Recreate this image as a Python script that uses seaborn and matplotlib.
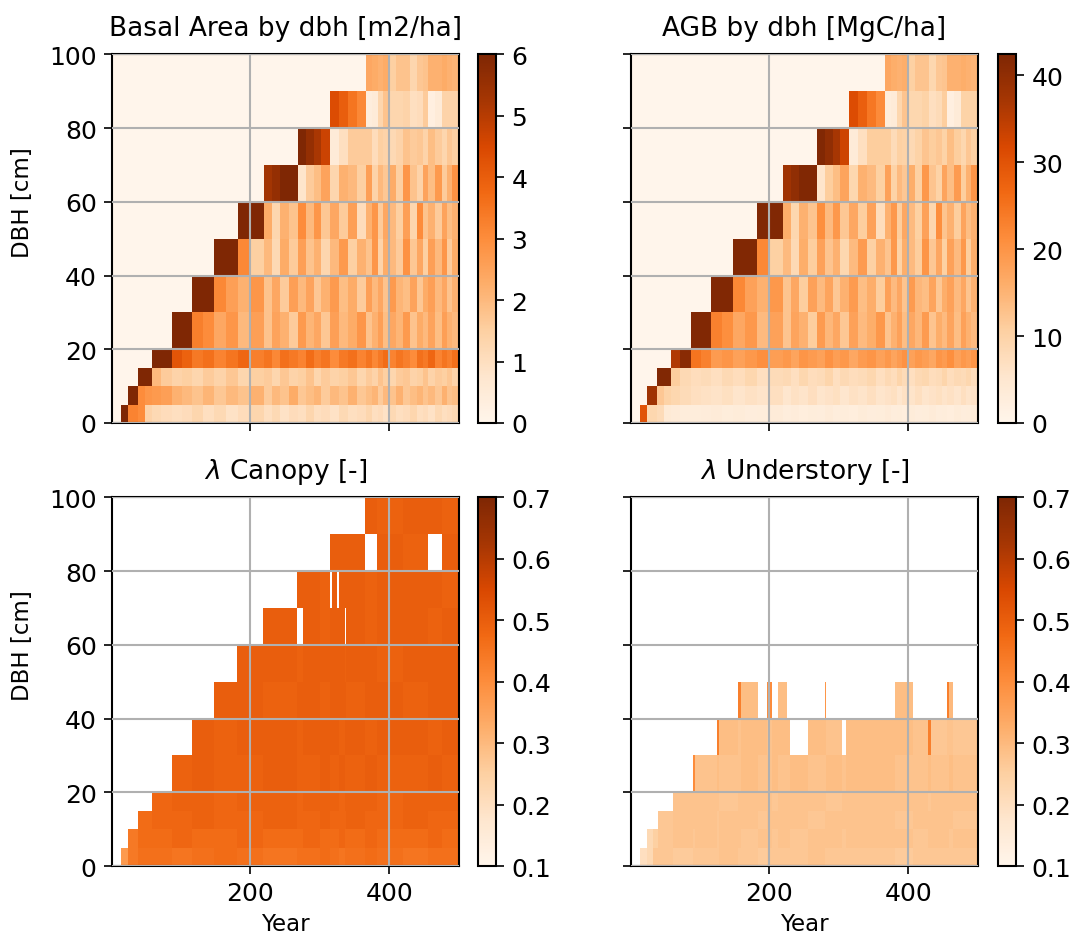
import numpy as np
import seaborn as sns
import matplotlib
matplotlib.use("Agg")
import matplotlib.pyplot as plt

# DBH class edges [cm]
dbh_edges = [0, 5, 10, 15, 20, 30, 40, 50, 60, 70, 80, 90, 100]

# year edges used for the two top panels
years_top = [1, 14, 24, 38, 48, 58, 72, 87, 101, 116, 132, 148, 165, 182, 200, 219,
             231, 243, 255, 268, 280, 291, 302, 314, 327, 340, 353, 366, 375, 383,
             391, 400, 410, 420, 430, 440, 448, 455, 465, 476, 483, 490, 500]

# basal area [m2/ha], one row per dbh class (0-5 cm first)
ba = [
    [0, 6.0, 3.2, 3.0, 1.4, 1.2, 1.1, 1.0, 1.1, 1.3, 1.0, 1.2, 0.9, 1.1, 1.3, 1.0, 1.2, 0.9, 1.1, 1.0, 1.3,
     1.0, 1.1, 0.9, 1.2, 1.0, 1.1, 1.3, 1.0, 1.1, 0.9, 1.2, 1.0, 1.1, 1.3, 1.0, 1.1, 0.9, 1.2, 1.0, 1.1, 1.2],
    [0, 0, 6.0, 3.0, 2.8, 2.7, 2.6, 2.2, 2.0, 1.8, 2.1, 1.7, 2.0, 1.8, 2.2, 1.6, 2.0, 1.8, 2.3, 1.7, 1.9,
     2.1, 1.6, 2.0, 1.8, 2.2, 1.7, 1.9, 2.1, 1.6, 2.0, 1.8, 2.2, 1.7, 1.9, 2.1, 1.8, 2.0, 1.7, 2.2, 1.8, 1.9],
    [0, 0, 0, 6.0, 6.0, 2.0, 1.6, 1.4, 1.5, 1.3, 1.6, 1.4, 1.7, 1.3, 1.5, 1.6, 1.3, 1.7, 1.4, 1.5, 1.8,
     1.3, 1.6, 1.4, 1.5, 1.7, 1.3, 1.6, 1.4, 1.8, 1.5, 1.3, 1.6, 1.7, 1.4, 1.5, 1.8, 1.4, 1.6, 1.5, 1.7, 1.4],
    [0, 0, 0, 0, 0, 6.0, 6.0, 4.2, 3.9, 3.4, 3.6, 3.2, 3.5, 3.8, 3.3, 3.5, 3.1, 3.6, 3.4, 3.2, 3.7,
     3.3, 3.5, 3.0, 3.4, 3.6, 3.2, 3.5, 3.1, 3.4, 3.7, 3.2, 3.5, 3.3, 3.0, 3.6, 3.4, 3.8, 3.2, 3.5, 3.3, 3.6],
    [0, 0, 0, 0, 0, 0, 0, 6.0, 6.0, 3.3, 3.0, 2.4, 2.8, 2.0, 2.6, 1.8, 2.5, 2.2, 1.6, 2.7, 2.1,
     2.4, 1.7, 2.6, 2.0, 2.3, 2.8, 1.8, 2.2, 2.6, 1.9, 2.4, 2.1, 2.7, 1.8, 2.3, 2.0, 2.5, 1.9, 2.6, 2.2, 2.0],
    [0, 0, 0, 0, 0, 0, 0, 0, 0, 6.0, 6.0, 3.1, 2.6, 2.2, 2.8, 1.8, 2.4, 1.6, 2.6, 2.0, 2.5,
     1.7, 2.2, 2.7, 1.9, 2.3, 1.6, 2.6, 2.0, 2.4, 1.8, 2.7, 2.1, 1.9, 2.5, 1.7, 2.3, 2.6, 2.0, 2.4, 1.8, 2.2],
    [0, 0, 0, 0, 0, 0, 0, 0, 0, 0, 0, 6.0, 6.0, 3.1, 1.5, 2.0, 1.2, 2.3, 1.6, 2.6, 1.8,
     2.2, 1.3, 2.0, 2.7, 1.5, 2.2, 1.8, 2.8, 1.4, 2.3, 2.0, 1.6, 2.9, 1.7, 2.4, 1.5, 2.6, 2.0, 2.8, 1.6, 2.3],
    [0, 0, 0, 0, 0, 0, 0, 0, 0, 0, 0, 0, 0, 6.0, 6.0, 2.3, 1.3, 2.2, 1.8, 3.0, 2.0,
     2.8, 1.7, 2.4, 1.6, 2.6, 1.1, 2.2, 2.8, 1.6, 2.4, 2.0, 1.5, 2.6, 1.3, 3.0, 1.8, 2.2, 1.6, 2.5, 1.9, 2.2],
    [0, 0, 0, 0, 0, 0, 0, 0, 0, 0, 0, 0, 0, 0, 0, 5.3, 5.6, 6.0, 6.0, 0.8, 1.6,
     1.9, 2.5, 1.3, 2.2, 2.0, 1.5, 2.6, 1.4, 2.0, 1.7, 2.3, 1.5, 2.8, 1.8, 1.4, 2.5, 1.9, 2.7, 1.6, 2.2, 2.9],
    [0, 0, 0, 0, 0, 0, 0, 0, 0, 0, 0, 0, 0, 0, 0, 0, 0, 0, 0, 6.0, 5.6,
     5.2, 4.7, 0.5, 1.0, 1.6, 1.6, 1.6, 1.1, 1.5, 1.4, 1.2, 1.4, 1.8, 1.6, 1.7, 1.4, 1.9, 1.6, 1.3, 1.7, 1.5],
    [0, 0, 0, 0, 0, 0, 0, 0, 0, 0, 0, 0, 0, 0, 0, 0, 0, 0, 0, 0, 0,
     0, 0, 4.4, 4.0, 3.5, 3.1, 0.4, 0.5, 1.3, 1.8, 1.3, 1.3, 1.4, 1.0, 1.1, 1.6, 0.3, 0.5, 1.4, 1.4, 1.4],
    [0, 0, 0, 0, 0, 0, 0, 0, 0, 0, 0, 0, 0, 0, 0, 0, 0, 0, 0, 0, 0,
     0, 0, 0, 0, 0, 0, 2.4, 2.3, 2.2, 2.3, 1.5, 1.8, 1.8, 1.3, 1.7, 1.8, 2.2, 2.2, 2.3, 2.2, 2.1],
]

# above ground biomass [MgC/ha]
agb = [
    [0, 30, 9, 8, 4, 3.5, 3, 3, 3.2, 3.6, 3, 3.4, 2.7, 3.1, 3.6, 2.9, 3.3, 2.6, 3.1, 2.9, 3.5,
     2.9, 3.1, 2.6, 3.4, 2.9, 3.1, 3.5, 2.9, 3.1, 2.6, 3.4, 2.9, 3.1, 3.6, 2.9, 3.1, 2.6, 3.4, 2.9, 3.1, 3.4],
    [0, 0, 38, 12, 10, 9, 8, 7, 6.5, 6, 6.8, 5.6, 6.5, 5.9, 7, 5.3, 6.5, 5.9, 7.2, 5.6, 6.2,
     6.8, 5.3, 6.5, 5.9, 7, 5.6, 6.2, 6.8, 5.3, 6.5, 5.9, 7, 5.6, 6.2, 6.8, 5.9, 6.5, 5.6, 7, 5.9, 6.2],
    [0, 0, 0, 42, 42, 11, 8.5, 7.5, 8, 7, 8.5, 7.5, 9, 7, 8, 8.5, 7, 9, 7.5, 8, 9.5,
     7, 8.5, 7.5, 8, 9, 7, 8.5, 7.5, 9.5, 8, 7, 8.5, 9, 7.5, 8, 9.5, 7.5, 8.5, 8, 9, 7.5],
    [0, 0, 0, 0, 0, 36, 41, 25, 23, 19, 20, 18, 19.5, 21, 18.5, 19.5, 17.5, 20, 19, 18, 20.5,
     18.5, 19.5, 17, 19, 20, 18, 19.5, 17.5, 19, 20.5, 18, 19.5, 18.5, 17, 20, 19, 21, 18, 19.5, 18.5, 20],
    [0, 0, 0, 0, 0, 0, 0, 42, 42, 23, 21, 17, 19.5, 14, 18, 12.5, 17.5, 15.5, 11, 19, 14.5,
     17, 12, 18, 14, 16, 19.5, 12.5, 15.5, 18, 13.5, 17, 14.5, 19, 12.5, 16, 14, 17.5, 13.5, 18, 15.5, 14],
    [0, 0, 0, 0, 0, 0, 0, 0, 0, 42, 42, 22, 18, 15.5, 19.5, 12.5, 17, 11, 18, 14, 17.5,
     12, 15.5, 19, 13.5, 16, 11, 18, 14, 17, 12.5, 19, 14.5, 13.5, 17.5, 12, 16, 18, 14, 17, 12.5, 15.5],
    [0, 0, 0, 0, 0, 0, 0, 0, 0, 0, 0, 42, 42, 22, 10.5, 14, 8.5, 16, 11, 18, 12.5,
     15.5, 9, 14, 19, 10.5, 15.5, 12.5, 19.5, 10, 16, 14, 11, 20, 12, 17, 10.5, 18, 14, 19.5, 11, 16],
    [0, 0, 0, 0, 0, 0, 0, 0, 0, 0, 0, 0, 0, 42, 42, 16, 9, 15.5, 12.5, 21, 14,
     19.5, 12, 17, 11, 18, 7.5, 15.5, 19.5, 11, 17, 14, 10.5, 18, 9, 21, 12.5, 15.5, 11, 17.5, 13.5, 15.5],
    [0, 0, 0, 0, 0, 0, 0, 0, 0, 0, 0, 0, 0, 0, 0, 38, 40, 42, 42, 5.5, 11,
     13.5, 17.5, 9, 15.5, 14, 10.5, 18, 10, 14, 12, 16, 10.5, 19.5, 12.5, 10, 17.5, 13.5, 19, 11, 15.5, 20],
    [0, 0, 0, 0, 0, 0, 0, 0, 0, 0, 0, 0, 0, 0, 0, 0, 0, 0, 0, 42, 40,
     37, 33, 3.5, 7, 11, 11, 11, 8, 10.5, 10, 8.5, 10, 12.5, 11, 12, 10, 13.5, 11, 9, 12, 10.5],
    [0, 0, 0, 0, 0, 0, 0, 0, 0, 0, 0, 0, 0, 0, 0, 0, 0, 0, 0, 0, 0,
     0, 0, 31, 28, 24.5, 21.5, 3, 3.5, 9, 12.5, 9, 9, 10, 7, 8, 11, 2, 3.5, 10, 10, 10],
    [0, 0, 0, 0, 0, 0, 0, 0, 0, 0, 0, 0, 0, 0, 0, 0, 0, 0, 0, 0, 0,
     0, 0, 0, 0, 0, 0, 17, 16, 15.5, 16, 10.5, 12.5, 12.5, 9, 12, 12.5, 15.5, 15.5, 16, 15.5, 15],
]

nan = np.nan

# lambda canopy [-]
years_canopy = [1, 14.4, 24, 38.5, 58, 87, 116, 147, 181, 218, 267.5, 276, 300, 314, 318, 325,
                328, 336, 337, 365, 382, 420, 455, 476, 500]
lam_canopy = [
    [nan, 0.37, 0.44, 0.46, 0.46, 0.45, 0.46, 0.47, 0.46, 0.45, 0.46, 0.46, 0.47, 0.46, 0.46, 0.46,
     0.45, 0.46, 0.46, 0.47, 0.46, 0.45, 0.46, 0.46],
    [nan, nan, 0.44, 0.47, 0.47, 0.48, 0.47, 0.47, 0.48, 0.47, 0.47, 0.48, 0.47, 0.47, 0.47, 0.47,
     0.48, 0.47, 0.47, 0.48, 0.47, 0.47, 0.48, 0.47],
    [nan, nan, nan, 0.47, 0.48, 0.48, 0.49, 0.48, 0.48, 0.49, 0.48, 0.48, 0.49, 0.48, 0.48, 0.48,
     0.48, 0.48, 0.49, 0.48, 0.48, 0.49, 0.48, 0.48],
    [nan, nan, nan, nan, 0.48, 0.49, 0.49, 0.48, 0.49, 0.49, 0.48, 0.49, 0.49, 0.49, 0.49, 0.49,
     0.48, 0.49, 0.49, 0.49, 0.48, 0.49, 0.49, 0.49],
    [nan, nan, nan, nan, nan, 0.49, 0.50, 0.49, 0.49, 0.50, 0.49, 0.49, 0.50, 0.49, 0.49, 0.49,
     0.50, 0.49, 0.49, 0.50, 0.49, 0.49, 0.50, 0.49],
    [nan, nan, nan, nan, nan, nan, 0.50, 0.49, 0.50, 0.50, 0.49, 0.50, 0.50, 0.50, 0.50, 0.50,
     0.49, 0.50, 0.50, 0.49, 0.50, 0.50, 0.49, 0.50],
    [nan, nan, nan, nan, nan, nan, nan, 0.50, 0.50, 0.49, 0.50, 0.50, 0.49, 0.50, 0.50, 0.50,
     0.50, 0.50, 0.49, 0.50, 0.50, 0.49, 0.50, 0.50],
    [nan, nan, nan, nan, nan, nan, nan, nan, 0.50, 0.50, 0.49, 0.50, 0.50, 0.50, 0.50, 0.50,
     0.50, 0.49, 0.50, 0.50, 0.49, 0.50, 0.50, 0.50],
    [nan, nan, nan, nan, nan, nan, nan, nan, nan, 0.50, nan, 0.50, 0.49, 0.50, 0.50, 0.50,
     0.50, nan, 0.50, 0.49, 0.50, 0.50, 0.49, 0.50],
    [nan, nan, nan, nan, nan, nan, nan, nan, nan, nan, 0.50, 0.50, 0.49, nan, 0.50, nan,
     0.50, 0.50, 0.50, 0.49, 0.50, 0.50, 0.50, 0.49],
    [nan, nan, nan, nan, nan, nan, nan, nan, nan, nan, nan, nan, nan, 0.50, 0.50, 0.50,
     0.50, 0.50, 0.50, nan, 0.50, 0.49, nan, 0.50],
    [nan, nan, nan, nan, nan, nan, nan, nan, nan, nan, nan, nan, nan, nan, nan, nan,
     nan, nan, nan, 0.50, 0.49, 0.50, 0.50, 0.49],
]

# lambda understory [-]
years_under = [1, 13.5, 24, 33, 40, 62, 90, 93, 125, 128, 155, 159, 184, 197, 204, 212, 226,
               229, 255, 280, 282, 304, 310, 381, 406, 428, 432, 455, 458, 464, 500]
lam_under = [
    [nan, 0.20, 0.22, 0.27, 0.27, 0.26, 0.27, 0.27, 0.27, 0.28, 0.27, 0.27, 0.26, 0.27, 0.27,
     0.27, 0.27, 0.27, 0.28, 0.27, 0.27, 0.27, 0.27, 0.26, 0.27, 0.27, 0.27, 0.27, 0.27, 0.27],
    [nan, nan, 0.22, 0.25, 0.27, 0.28, 0.27, 0.28, 0.27, 0.28, 0.28, 0.27, 0.28, 0.28, 0.27,
     0.28, 0.28, 0.27, 0.28, 0.28, 0.28, 0.27, 0.28, 0.28, 0.27, 0.28, 0.28, 0.28, 0.27, 0.28],
    [nan, nan, nan, nan, 0.27, 0.28, 0.28, 0.28, 0.27, 0.28, 0.28, 0.28, 0.27, 0.28, 0.28,
     0.28, 0.28, 0.28, 0.27, 0.28, 0.28, 0.28, 0.28, 0.27, 0.28, 0.28, 0.28, 0.28, 0.28, 0.27],
    [nan, nan, nan, nan, nan, 0.28, 0.28, 0.28, 0.28, 0.27, 0.28, 0.28, 0.28, 0.28, 0.27,
     0.28, 0.28, 0.28, 0.28, 0.28, 0.27, 0.28, 0.28, 0.28, 0.28, 0.27, 0.28, 0.28, 0.28, 0.28],
    [nan, nan, nan, nan, nan, nan, 0.40, 0.28, 0.29, 0.28, 0.28, 0.29, 0.28, 0.28, 0.29,
     0.28, 0.28, 0.29, 0.28, 0.28, 0.29, 0.28, 0.29, 0.28, 0.28, 0.29, 0.28, 0.28, 0.29, 0.28],
    [nan, nan, nan, nan, nan, nan, nan, nan, 0.43, 0.29, 0.28, 0.29, 0.29, 0.28, 0.29,
     0.29, 0.29, nan, 0.29, 0.29, 0.28, nan, 0.29, 0.29, 0.28, 0.43, 0.27, 0.28, 0.28, 0.27],
    [nan, nan, nan, nan, nan, nan, nan, nan, nan, nan, 0.43, 0.29, nan, 0.40, nan,
     0.29, nan, nan, nan, 0.38, nan, nan, nan, 0.29, nan, nan, nan, 0.43, 0.30, nan],
    [nan] * 30,
    [nan] * 30,
    [nan] * 30,
    [nan] * 30,
    [nan] * 30,
]

sns.set_style("ticks")
plt.rcParams["font.family"] = ["DejaVu Sans"]
plt.rcParams["text.color"] = "black"
plt.rcParams["axes.labelcolor"] = "black"
plt.rcParams["xtick.color"] = "black"
plt.rcParams["ytick.color"] = "black"
cmap = sns.color_palette("Oranges", as_cmap=True)

fig = plt.figure(figsize=(10.73, 9.37), dpi=100)

panels = [
    (years_top, ba, 0, 6.0, "Basal Area by dbh [m2/ha]", [0, 1, 2, 3, 4, 5, 6]),
    (years_top, agb, 0, 42.4, "AGB by dbh [MgC/ha]", [0, 10, 20, 30, 40]),
    (years_canopy, lam_canopy, 0.1, 0.7, r"$\lambda$ Canopy [-]", [0.1, 0.2, 0.3, 0.4, 0.5, 0.6, 0.7]),
    (years_under, lam_under, 0.1, 0.7, r"$\lambda$ Understory [-]", [0.1, 0.2, 0.3, 0.4, 0.5, 0.6, 0.7]),
]
ax_pos = [(0.1044, 0.5475), (0.5881, 0.5475), (0.1044, 0.0747), (0.5881, 0.0747)]
cb_x = [0.4455, 0.9301, 0.4455, 0.9301]
ax_w, ax_h = 0.3234, 0.3935

for i, (yrs, vals, vmin, vmax, title, cticks) in enumerate(panels):
    ax = fig.add_axes([ax_pos[i][0], ax_pos[i][1], ax_w, ax_h])
    cax = fig.add_axes([cb_x[i], ax_pos[i][1], 0.0168, ax_h])
    data = np.ma.masked_invalid(np.array(vals, dtype=float))
    mesh = ax.pcolormesh(yrs, dbh_edges, data, cmap=cmap, vmin=vmin, vmax=vmax, shading="flat")
    ax.set_xlim(1, 500)
    ax.set_ylim(0, 100)
    ax.set_xticks([200, 400])
    ax.set_yticks([0, 20, 40, 60, 80, 100])
    ax.set_axisbelow(False)
    ax.grid(True, color="#b0b0b0", linewidth=1.5)
    ax.set_title(title, fontsize=19, pad=14)
    ax.tick_params(labelsize=18, length=6, width=1.2, pad=5)
    for s in ax.spines.values():
        s.set_color("black")
        s.set_linewidth(1.5)
    if i % 2 == 0:
        ax.set_ylabel("DBH [cm]", fontsize=16.5)
        ax.yaxis.set_label_coords(-0.225, 0.6)
    else:
        ax.tick_params(labelleft=False)
    if i >= 2:
        ax.set_xlabel("Year", fontsize=16.5, labelpad=5)
    else:
        ax.tick_params(labelbottom=False)
    cb = fig.colorbar(mesh, cax=cax)
    cb.set_ticks(cticks)
    cb.ax.tick_params(labelsize=18, length=6, width=1.2, pad=5)
    cb.outline.set_linewidth(1.5)
    cb.outline.set_edgecolor("black")

fig.savefig("out.png", dpi=100)
